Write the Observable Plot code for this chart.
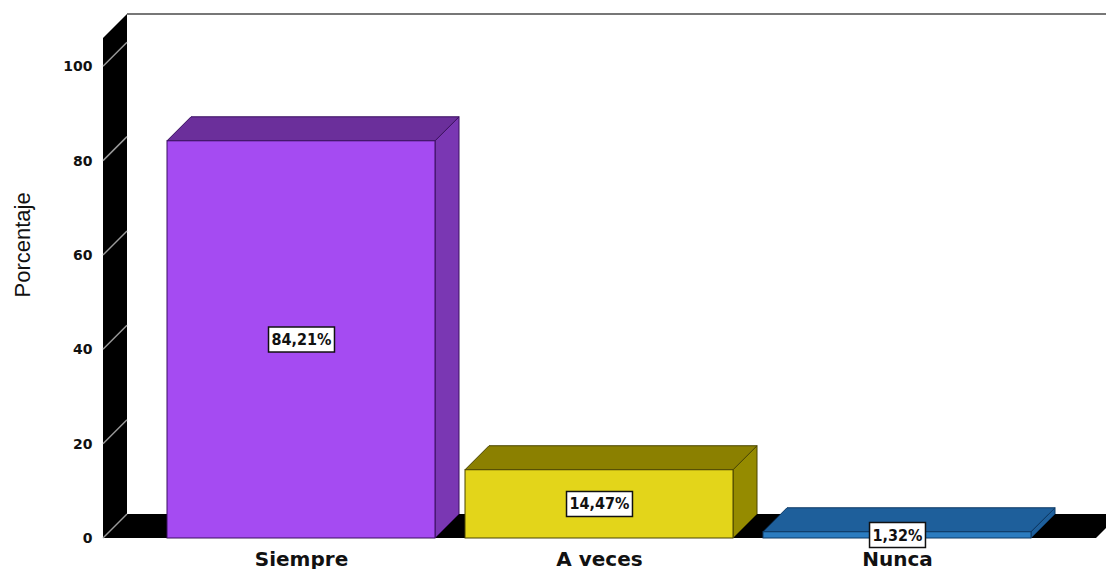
<!DOCTYPE html>
<html><head><meta charset="utf-8">
<script src="https://cdn.jsdelivr.net/npm/d3@7"></script>
<script src="https://cdn.jsdelivr.net/npm/@observablehq/plot@0.6"></script>
<style>body{margin:0;background:#fff} svg{display:block}</style>
</head><body><div id="chart"></div>
<script>
const categories = ["Siempre", "A veces", "Nunca"];
const percentages = [84.21, 14.47, 1.32];
const valueLabels = ["84,21%", "14,47%", "1,32%"];
const yTicks = [0, 20, 40, 60, 80, 100];
const yDomain = [0, 106];
const yAxisLabel = "Porcentaje";
const frontColors = ["#a54bf2", "#e3d51a", "#2b7cc0"];
const topColors = ["#6b2f9b", "#8b8000", "#1e5f9b"];
const sideColors = ["#7a37b3", "#958b00", "#1e5f9b"];
const edgeColors = ["#3a1060", "#4a4400", "#0e3a66"];

const data = categories.map((c, i) => ({cat: c, pct: percentages[i], label: valueLabels[i], i}));
const D = 24; // 3D depth in pixels

function wallsRender(index, scales, values, dims) {
  const y = scales.y;
  const xl = dims.marginLeft, xr = dims.width - dims.marginRight;
  const y0 = y(0), yTop = y(yDomain[1]);
  const g = d3.create("svg:g");
  g.append("line").attr("x1", xl + D).attr("x2", dims.width + D)
    .attr("y1", yTop - D).attr("y2", yTop - D)
    .attr("stroke", "#777").attr("stroke-width", 2);
  g.append("path").attr("d", `M${xl},${y0}L${xl},${yTop}L${xl + D},${yTop - D}L${xl + D},${y0 - D}Z`).attr("fill", "#000");
  g.append("path").attr("d", `M${xl},${y0}L${xl + D},${y0 - D}L${xr + D},${y0 - D}L${xr},${y0}Z`).attr("fill", "#000");
  for (const t of yTicks) {
    g.append("line").attr("x1", xl).attr("y1", y(t)).attr("x2", xl + D).attr("y2", y(t) - D)
      .attr("stroke", "#9a9a9a").attr("stroke-width", 1.5);
  }
  return g.node();
}

function barsRender(index, scales, values) {
  const sx = scales.x;
  const bw = typeof sx.bandwidth === "function" ? sx.bandwidth() : scales.scales.x.bandwidth;
  const g = d3.create("svg:g");
  for (const i of index) {
    const x0 = values.x[i], x1 = x0 + bw;
    const yb = values.y1[i], yt = values.y2[i];
    const k = data[i].i;
    g.append("path").attr("d", `M${x1},${yt}L${x1 + D},${yt - D}L${x1 + D},${yb - D}L${x1},${yb}Z`)
      .attr("fill", sideColors[k]).attr("stroke", edgeColors[k]).attr("stroke-width", 1).attr("stroke-linejoin", "round");
    g.append("path").attr("d", `M${x0},${yt}L${x0 + D},${yt - D}L${x1 + D},${yt - D}L${x1},${yt}Z`)
      .attr("fill", topColors[k]).attr("stroke", edgeColors[k]).attr("stroke-width", 1).attr("stroke-linejoin", "round");
    g.append("rect").attr("x", x0).attr("y", yt).attr("width", bw).attr("height", yb - yt)
      .attr("fill", frontColors[k]).attr("stroke", edgeColors[k]).attr("stroke-width", 1);
  }
  return g.node();
}

const plot = Plot.plot({
  width: 1106,
  height: 569,
  marginTop: 38,
  marginBottom: 31,
  marginLeft: 103,
  marginRight: 10,
  style: {fontFamily: "DejaVu Sans", background: "#fff", overflow: "visible"},
  x: {domain: categories, paddingInner: 0.1, paddingOuter: 0.213, axis: null},
  y: {domain: yDomain, axis: null},
  marks: [
    Plot.ruleY([0], {render: wallsRender}),
    Plot.barY(data, {x: "cat", y: "pct", render: barsRender}),
    Plot.axisY(yTicks, {tickSize: 0, tickPadding: 11, fontSize: 14, fontWeight: "bold", fontFamily: "DejaVu Sans", fill: "#111", label: null}),
    Plot.text([yAxisLabel], {frameAnchor: "left", rotate: -90, dx: -81, dy: 9, fontSize: 22, fontFamily: "Liberation Sans", fill: "#111"}),
    Plot.text(data, {x: "cat", y: 0, text: "cat", dy: 27, lineAnchor: "bottom", fontSize: 20, fontWeight: "bold", fontFamily: "DejaVu Sans", fill: "#111"}),
    Plot.text(data, {x: "cat", y: d => d.pct / 2, text: "label", fontSize: 16, fontWeight: "bold", fontFamily: "DejaVu Sans Condensed, DejaVu Sans", fill: "#111", className: "vlabel"})
  ]
});
document.getElementById("chart").append(plot);

plot.querySelectorAll(".vlabel text").forEach(t => {
  const b = t.getBBox();
  const r = document.createElementNS("http://www.w3.org/2000/svg", "rect");
  r.setAttribute("x", b.x - 3);
  r.setAttribute("y", b.y - 3);
  r.setAttribute("width", b.width + 6);
  r.setAttribute("height", b.height + 6);
  r.setAttribute("fill", "#fff");
  r.setAttribute("stroke", "#111");
  r.setAttribute("stroke-width", 1.5);
  const tr = t.getAttribute("transform");
  if (tr) r.setAttribute("transform", tr);
  t.parentNode.insertBefore(r, t);
});
</script>
</body></html>
